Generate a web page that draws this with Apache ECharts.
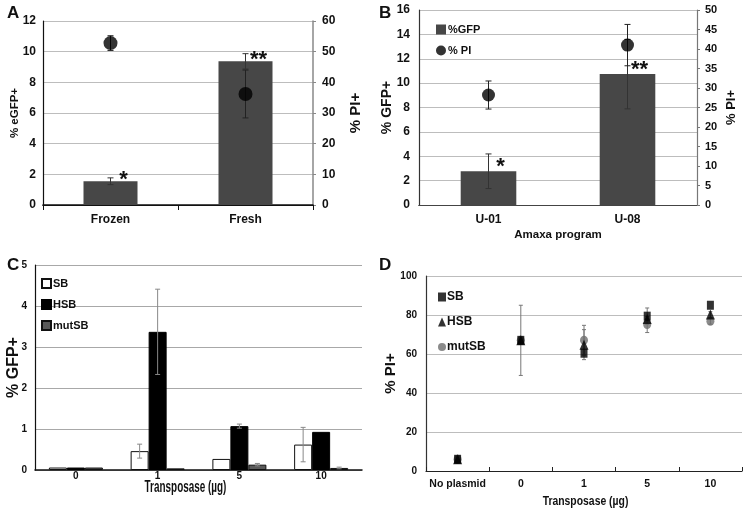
<!DOCTYPE html>
<html><head><meta charset="utf-8">
<script src="https://cdn.jsdelivr.net/npm/echarts@6/dist/echarts.min.js"></script>
<style>html,body{margin:0;padding:0;background:#fff}#c{width:744px;height:510px}</style>
</head><body><div id="c"></div>
<script>
// ---- Panel A ----
const catA = ['Frozen', 'Fresh'];
const gfpA = [1.55, 9.37];
const gfpErrA = [0.22, 0.5];
const piA = [52.8, 36.2];
const piErrA = [2.4, 7.8];
const sigA = ['*', '**'];
const yTicksA = [0, 2, 4, 6, 8, 10, 12];
const y2TicksA = [0, 10, 20, 30, 40, 50, 60];
// ---- Panel B ----
const catB = ['U-01', 'U-08'];
const gfpB = [2.77, 10.74];
const gfpErrB = [1.42, 2.85];
const piB = [28.2, 41.0];
const piErrB = [3.6, 5.3];
const sigB = ['*', '**'];
const yTicksB = [0, 2, 4, 6, 8, 10, 12, 14, 16];
const y2TicksB = [0, 5, 10, 15, 20, 25, 30, 35, 40, 45, 50];
// ---- Panel C ----
const catC = ['0', '1', '5', '10'];
const sbC = [0.06, 0.46, 0.27, 0.62];
const sbErrC = [0, 0.17, 0, 0.42];
const hsbC = [0.06, 3.37, 1.07, 0.93];
const hsbErrC = [0, 1.04, 0.05, 0];
const mutC = [0.06, 0.04, 0.13, 0.05];
const mutErrC = [0, 0, 0.03, 0.02];
const yTicksC = [0, 1, 2, 3, 4, 5];
// ---- Panel D ----
const catD = ['No plasmid', '0', '1', '5', '10'];
const sbD = [6, 67, 60.4, 79.4, 85];
const hsbD = [6, 67, 64.8, 78, 80.2];
const mutD = [6, 67, 67.1, 75.1, 76.8];
const sbErrD = [0, 18, 0, 4.2, 0];
const hsbErrD = [0, 0, 7.7, 0, 1.5];
const mutErrD = [0, 0, 7.6, 4.1, 1.5];
const yTicksD = [0, 20, 40, 60, 80, 100];
const xTitleCD = 'Transposase (µg)';

const F = 'Liberation Sans, Arial, sans-serif';

function errSeries(xi, yi, vals, errs, shift, color, cap) {
  const data = [];
  vals.forEach((v, i) => { if (errs[i] > 0) data.push([i, v - errs[i], v + errs[i]]); });
  return {
    type: 'custom', xAxisIndex: xi, yAxisIndex: yi, z: 6, silent: true,
    data: data, encode: { x: 0, y: [1, 2] },
    renderItem: function (p, api) {
      const lo = api.coord([api.value(0), api.value(1)]);
      const hi = api.coord([api.value(0), api.value(2)]);
      const x = lo[0] + shift;
      const st = { stroke: color, lineWidth: 1 };
      return { type: 'group', children: [
        { type: 'line', shape: { x1: x, y1: lo[1], x2: x, y2: hi[1] }, style: st },
        { type: 'line', shape: { x1: x - cap, y1: lo[1], x2: x + cap, y2: lo[1] }, style: st },
        { type: 'line', shape: { x1: x - cap, y1: hi[1], x2: x + cap, y2: hi[1] }, style: st }
      ] };
    }
  };
}

const tickLbl = (size) => ({ fontFamily: F, fontWeight: 'bold', fontSize: size, color: '#111' });

const option = {
  animation: false,
  backgroundColor: '#fff',
  textStyle: { fontFamily: F },
  title: [
    { text: 'A', left: 2, top: 0, textStyle: { fontFamily: F, fontWeight: 'bold', fontSize: 17, color: '#111' } },
    { text: 'B', left: 374, top: 0, textStyle: { fontFamily: F, fontWeight: 'bold', fontSize: 17, color: '#111' } },
    { text: 'C', left: 2, top: 252, textStyle: { fontFamily: F, fontWeight: 'bold', fontSize: 17, color: '#111' } },
    { text: 'D', left: 374, top: 252, textStyle: { fontFamily: F, fontWeight: 'bold', fontSize: 17, color: '#111' } }
  ],
  graphic: [
    { type: 'text', x: 185.5, y: 488, scaleX: 0.62, silent: true,
      style: { text: xTitleCD, font: 'bold 16px ' + F, fill: '#111', align: 'center', verticalAlign: 'middle' } },
    { type: 'text', x: 585.5, y: 501, scaleX: 0.8, silent: true,
      style: { text: xTitleCD, font: 'bold 13px ' + F, fill: '#111', align: 'center', verticalAlign: 'middle' } }
  ],
  grid: [
    { left: 43, top: 21, width: 270, height: 184 },
    { left: 419, top: 10, width: 278, height: 195 },
    { left: 35, top: 265, width: 327, height: 205 },
    { left: 426, top: 276, width: 316, height: 195 }
  ],
  legend: [
    { data: [{ name: '%GFP', icon: 'rect' }, { name: '% PI', icon: 'circle' }], orient: 'vertical', left: 431, top: 19,
      itemWidth: 10, itemHeight: 10, itemGap: 10, selectedMode: false,
      textStyle: { fontFamily: F, fontWeight: 'bold', fontSize: 11, color: '#111', padding: [0, 0, 0, -3] } },
    { data: [{ name: 'SB', icon: 'rect' }, { name: 'HSB', icon: 'rect' }, { name: 'mutSB', icon: 'rect' }], orient: 'vertical', left: 36, top: 273,
      itemWidth: 9, itemHeight: 9, itemGap: 10, selectedMode: false,
      textStyle: { fontFamily: F, fontWeight: 'bold', fontSize: 11, color: '#111', padding: [0, 0, 0, -3] } },
    { data: [{ name: 'SB ', icon: 'rect' }, { name: 'HSB ', icon: 'triangle' }, { name: 'mutSB ', icon: 'circle' }], orient: 'vertical', left: 433, top: 286,
      itemWidth: 8, itemHeight: 9, itemGap: 13, selectedMode: false,
      formatter: n => n.trim(),
      textStyle: { fontFamily: F, fontWeight: 'bold', fontSize: 12, color: '#111', padding: [0, 0, 0, -4] } }
  ],
  xAxis: [
    { gridIndex: 0, type: 'category', data: catA, boundaryGap: true,
      axisLine: { lineStyle: { color: '#111', width: 1.5 } }, axisTick: { show: true, length: 5, lineStyle: { color: '#111' } },
      axisLabel: Object.assign(tickLbl(12), { margin: 9 }) },
    { gridIndex: 1, type: 'category', data: catB, boundaryGap: true,
      name: 'Amaxa program', nameLocation: 'middle', nameGap: 24, nameMoveOverlap: false,
      nameTextStyle: { fontFamily: F, fontWeight: 'bold', fontSize: 11.5, color: '#111' },
      axisLine: { lineStyle: { color: '#333', width: 1.2 } }, axisTick: { show: false },
      axisLabel: Object.assign(tickLbl(12), { margin: 9 }) },
    { gridIndex: 2, type: 'category', data: catC, boundaryGap: true,
      axisLine: { lineStyle: { color: '#111', width: 1.5 } }, axisTick: { show: false },
      axisLabel: Object.assign(tickLbl(10), { margin: 1 }) },
    { gridIndex: 3, type: 'category', data: catD, boundaryGap: true,
      axisLine: { lineStyle: { color: '#222', width: 1.2 } }, axisTick: { show: true, inside: true, length: 4, lineStyle: { color: '#222' } },
      axisLabel: Object.assign(tickLbl(10.5), { margin: 8, interval: 0 }) },
    // top frame lines for A and B
    { gridIndex: 0, type: 'category', data: catA, position: 'top', axisLine: { lineStyle: { color: '#111', width: 1.2 } }, axisTick: { show: false }, axisLabel: { show: false } },
    { gridIndex: 1, type: 'category', data: catB, position: 'top', axisLine: { lineStyle: { color: '#444', width: 1.2 } }, axisTick: { show: false }, axisLabel: { show: false } }
  ],
  yAxis: [
    { gridIndex: 0, type: 'value', min: yTicksA[0], max: yTicksA[yTicksA.length - 1], interval: yTicksA[1] - yTicksA[0],
      name: '% eGFP+', nameLocation: 'middle', nameRotate: 90, nameGap: 22, nameMoveOverlap: false,
      nameTextStyle: { fontFamily: F, fontWeight: 'bold', fontSize: 11.5, color: '#111' },
      axisLine: { show: true, lineStyle: { color: '#111', width: 1.2 } }, axisTick: { show: false },
      splitLine: { lineStyle: { color: '#bdbdbd' } }, axisLabel: Object.assign(tickLbl(12), { margin: 7 }) },
    { gridIndex: 0, type: 'value', position: 'right', min: y2TicksA[0], max: y2TicksA[y2TicksA.length - 1], interval: y2TicksA[1] - y2TicksA[0],
      name: '% PI+', nameLocation: 'middle', nameRotate: 90, nameGap: 35, nameMoveOverlap: false,
      nameTextStyle: { fontFamily: F, fontWeight: 'bold', fontSize: 15, color: '#111' },
      axisLine: { show: true, lineStyle: { color: '#888', width: 1.5 } }, axisTick: { show: true, length: 3, lineStyle: { color: '#888' } },
      splitLine: { show: false }, axisLabel: Object.assign(tickLbl(12), { margin: 9 }) },
    { gridIndex: 1, type: 'value', min: yTicksB[0], max: yTicksB[yTicksB.length - 1], interval: yTicksB[1] - yTicksB[0],
      name: '% GFP+', nameLocation: 'middle', nameRotate: 90, nameGap: 25, nameMoveOverlap: false,
      nameTextStyle: { fontFamily: F, fontWeight: 'bold', fontSize: 14, color: '#111' },
      axisLine: { show: true, lineStyle: { color: '#333', width: 1.2 } }, axisTick: { show: false },
      splitLine: { lineStyle: { color: '#bdbdbd' } }, axisLabel: Object.assign(tickLbl(12), { margin: 9 }) },
    { gridIndex: 1, type: 'value', position: 'right', min: y2TicksB[0], max: y2TicksB[y2TicksB.length - 1], interval: y2TicksB[1] - y2TicksB[0],
      name: '% PI+', nameLocation: 'middle', nameRotate: 90, nameGap: 28, nameMoveOverlap: false,
      nameTextStyle: { fontFamily: F, fontWeight: 'bold', fontSize: 13, color: '#111' },
      axisLine: { show: true, lineStyle: { color: '#777', width: 1.2 } }, axisTick: { show: true, length: 3, lineStyle: { color: '#777' } },
      splitLine: { show: false }, axisLabel: Object.assign(tickLbl(11), { margin: 8 }) },
    { gridIndex: 2, type: 'value', min: yTicksC[0], max: yTicksC[yTicksC.length - 1], interval: yTicksC[1] - yTicksC[0],
      name: '% GFP+', nameLocation: 'middle', nameRotate: 90, nameGap: 13, nameMoveOverlap: false,
      nameTextStyle: { fontFamily: F, fontWeight: 'bold', fontSize: 16, color: '#111' },
      axisLine: { show: true, lineStyle: { color: '#111', width: 1.2 } }, axisTick: { show: false },
      splitLine: { lineStyle: { color: '#a8a8a8' } }, axisLabel: Object.assign(tickLbl(10), { margin: 8 }) },
    { gridIndex: 3, type: 'value', min: yTicksD[0], max: yTicksD[yTicksD.length - 1], interval: yTicksD[1] - yTicksD[0],
      name: '% PI+', nameLocation: 'middle', nameRotate: 90, nameGap: 28, nameMoveOverlap: false,
      nameTextStyle: { fontFamily: F, fontWeight: 'bold', fontSize: 15, color: '#111' },
      axisLine: { show: true, lineStyle: { color: '#333', width: 1.2 } }, axisTick: { show: false },
      splitLine: { lineStyle: { color: '#bdbdbd' } }, axisLabel: Object.assign(tickLbl(10), { margin: 9 }) }
  ],
  series: [
    // A
    { type: 'bar', xAxisIndex: 0, yAxisIndex: 0, data: gfpA, barWidth: '40%', itemStyle: { color: '#474747' },
      label: { show: true, position: 'top', formatter: p => sigA[p.dataIndex], offset: [13, 15], fontSize: 22, fontWeight: 'bold', color: '#111', fontFamily: F } },
    errSeries(0, 0, gfpA, gfpErrA, 0, '#333', 3),
    { type: 'scatter', xAxisIndex: 0, yAxisIndex: 1, data: piA, symbol: 'circle', symbolSize: 14, itemStyle: { color: '#000' }, z: 7 },
    errSeries(0, 1, piA, piErrA, 0, '#222', 3),
    // B
    { name: '%GFP', type: 'bar', xAxisIndex: 1, yAxisIndex: 2, data: gfpB, barWidth: '40%', itemStyle: { color: '#474747' },
      label: { show: true, position: 'top', formatter: p => sigB[p.dataIndex], offset: [12, 12], fontSize: 22, fontWeight: 'bold', color: '#111', fontFamily: F } },
    errSeries(1, 2, gfpB, gfpErrB, 0, '#333', 3),
    { name: '% PI', type: 'scatter', xAxisIndex: 1, yAxisIndex: 3, data: piB, symbol: 'circle', symbolSize: 13, itemStyle: { color: '#000' }, z: 7 },
    errSeries(1, 3, piB, piErrB, 0, '#222', 3),
    // C
    { name: 'SB', type: 'bar', xAxisIndex: 2, yAxisIndex: 4, data: sbC, barWidth: 18, barGap: '0%', itemStyle: { color: '#fff', borderColor: '#111', borderWidth: 1 } },
    { name: 'HSB', type: 'bar', xAxisIndex: 2, yAxisIndex: 4, data: hsbC, barWidth: 18, barGap: '0%', itemStyle: { color: '#000', borderColor: '#000', borderWidth: 1 } },
    { name: 'mutSB', type: 'bar', xAxisIndex: 2, yAxisIndex: 4, data: mutC, barWidth: 18, barGap: '0%', itemStyle: { color: '#5a5a5a', borderColor: '#111', borderWidth: 1 } },
    errSeries(2, 4, sbC, sbErrC, -18, '#888', 2.5),
    errSeries(2, 4, hsbC, hsbErrC, 0, '#888', 2.5),
    errSeries(2, 4, mutC, mutErrC, 18, '#888', 2.5),
    // D
    errSeries(3, 5, sbD, sbErrD, 0, '#777', 2),
    errSeries(3, 5, hsbD, hsbErrD, 0, '#777', 2),
    errSeries(3, 5, mutD, mutErrD, 0, '#777', 2),
    { name: 'mutSB ', type: 'scatter', xAxisIndex: 3, yAxisIndex: 5, data: mutD, symbol: 'circle', symbolSize: [8, 9], itemStyle: { color: '#6e6e6e' }, z: 7 },
    { name: 'HSB ', type: 'scatter', xAxisIndex: 3, yAxisIndex: 5, data: hsbD, symbol: 'triangle', symbolSize: [9, 10], itemStyle: { color: '#000' }, z: 7 },
    { name: 'SB ', type: 'scatter', xAxisIndex: 3, yAxisIndex: 5, data: sbD, symbol: 'rect', symbolSize: [7, 9], itemStyle: { color: '#000' }, z: 7 }
  ]
};
const chart = echarts.init(document.getElementById('c'), null, { renderer: 'canvas' });
chart.setOption(option);
</script>
</body></html>
